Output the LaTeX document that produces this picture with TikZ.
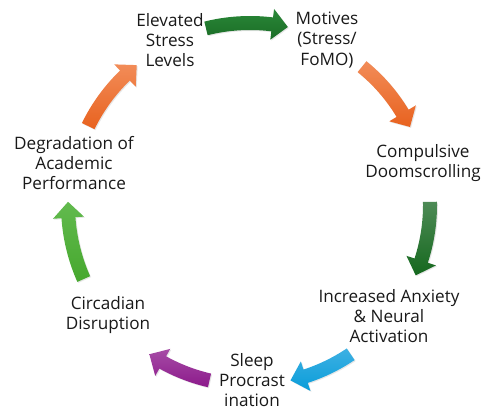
\documentclass[tikz,border=0pt]{standalone}
\usepackage{fontspec}
\setmainfont{Open Sans}
\usepackage{tikz}
\usetikzlibrary{shadows}

\definecolor{grnTop}{HTML}{2A8838}
\definecolor{grnBot}{HTML}{1A6C26}
\definecolor{orgTop}{HTML}{F28C58}
\definecolor{orgBot}{HTML}{E8621F}
\definecolor{dgrTop}{HTML}{4E8B56}
\definecolor{dgrBot}{HTML}{15681E}
\definecolor{bluTop}{HTML}{3DB0E3}
\definecolor{bluBot}{HTML}{0A9DD9}
\definecolor{purTop}{HTML}{A64CA6}
\definecolor{purBot}{HTML}{8C1A8B}
\definecolor{lgrTop}{HTML}{62BA4E}
\definecolor{lgrBot}{HTML}{46A82E}

% curved block arrow, clockwise: top colour, bottom colour, from angle, to angle, radius
\newcommand\cyclearrow[5]{%
  \shade[top color=#1,bottom color=#2,
         drop shadow={opacity=0.2,shadow xshift=1bp,shadow yshift=-1bp}]
    (#3:#5+7) arc[start angle=#3,end angle=#4+5,radius=#5+7]
    -- (#4+5:#5+15.5) -- (#4:#5) -- (#4+5:#5-15.5) -- (#4+5:#5-7)
    arc[start angle=#4+5,end angle=#3,radius=#5-7] -- cycle;}

\tikzset{stagetext/.style={align=center,text=black!90,
  font=\fontsize{17.2}{20.5}\selectfont}}

\begin{document}
\begin{tikzpicture}[x=1bp,y=1bp]
  \useasboundingbox (0,0) rectangle (483,412);
  \node[stagetext] (stress)  at (170,372) {Elevated\\Stress\\Levels};
  \node[stagetext] (motives) at (327,372) {Motives\\(Stress/\\FoMO)};
  \node[stagetext] (doom)    at (423,249) {Compulsive\\Doomscrolling};
  \node[stagetext] (anxiety) at (389,96)  {Increased Anxiety\\\& Neural\\Activation};
  \node[stagetext] (procr)   at (252,32)  {Sleep\\Procrast\\ination};
  \node[stagetext] (circ)    at (108,97)  {Circadian\\Disruption};
  \node[stagetext] (degr)    at (74,249)  {Degradation of\\Academic\\Performance};
  \coordinate (hub) at (250,207);
  \begin{scope}[shift={(hub)}]
    \cyclearrow{grnTop}{grnBot}{104}{78}{182}
    \cyclearrow{orgTop}{orgBot}{51}{26}{178}
    \cyclearrow{dgrTop}{dgrBot}{1}{-23}{180}
    \cyclearrow{bluTop}{bluBot}{-56}{-77}{180}
    \cyclearrow{purTop}{purBot}{-103}{-124}{180}
    \cyclearrow{lgrTop}{lgrBot}{-156}{-181}{182}
    \cyclearrow{orgTop}{orgBot}{154}{129}{180}
  \end{scope}
\end{tikzpicture}
\end{document}
